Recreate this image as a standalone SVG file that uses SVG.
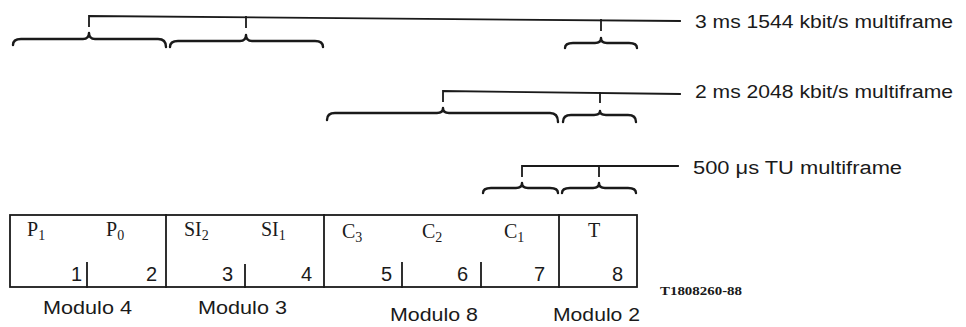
<svg xmlns="http://www.w3.org/2000/svg" width="966" height="327" viewBox="0 0 966 327">
  <style>
    .ln { stroke: #1a1a1a; stroke-width: 1.8; fill: none; stroke-linecap: square; }
    .br { stroke: #1a1a1a; stroke-width: 2.4; fill: none; stroke-linejoin: round; stroke-linecap: round; }
    .box { stroke: #1a1a1a; stroke-width: 1.8; fill: #fff; }
    .cap { font-family: "Liberation Sans", Arial, sans-serif; font-size: 18px; fill: #1a1a1a; }
    .ser { font-family: "Liberation Serif", "Times New Roman", serif; font-size: 20px; fill: #1a1a1a; }
    .sub { font-size: 14px; }
    .num { font-family: "Liberation Sans", Arial, sans-serif; font-size: 20px; fill: #1a1a1a; }
    .ref { font-family: "Liberation Serif", "Times New Roman", serif; font-size: 12px; font-weight: bold; fill: #1a1a1a; }
  </style>
  <rect width="966" height="327" fill="#fff"/>

  <!-- multiframe brackets -->
  <g id="connectors">
    <!-- 3 ms 1544 kbit/s -->
    <path class="ln" d="M89,26 L89,16 L680,21"/>
    <path class="ln" d="M246,17 L246,27"/>
    <path class="ln" d="M601,20 L601,30"/>
    <path class="br" d="M13,45 Q13,39 21,39 L83,39 Q89,39 89,33 Q89,39 95,39 L158,39 Q166,39 166,47"/>
    <path class="br" d="M170,47 Q170,41 178,41 L240,41 Q246,41 246,35 Q246,41 252,41 L315,41 Q323,41 323,47"/>
    <path class="br" d="M565,48 Q565,43 573,43 L595,43 Q601,43 601,38 Q601,43 607,43 L629,43 Q637,43 637,48"/>

    <!-- 2 ms 2048 kbit/s -->
    <path class="ln" d="M443,101 L443,91 L680,94"/>
    <path class="ln" d="M600,93 L600,102"/>
    <path class="br" d="M327,120 Q327,113 335,113 L437,113 Q443,113 443,108 Q443,113 449,113 L550,113 Q558,113 558,122"/>
    <path class="br" d="M563,122 Q563,115 571,115 L594,115 Q600,115 600,111 Q600,115 606,115 L628,115 Q636,115 636,122"/>

    <!-- 500 us TU -->
    <path class="ln" d="M522,176 L522,166 L678,166"/>
    <path class="ln" d="M599,166 L599,176"/>
    <path class="br" d="M483,193 Q483,188 491,188 L516,188 Q522,188 522,183 Q522,188 528,188 L550,188 Q558,188 558,193"/>
    <path class="br" d="M562,193 Q562,188 570,188 L593,188 Q599,188 599,183 Q599,188 605,188 L628,188 Q636,188 636,193"/>
  </g>

  <g id="labels">
    <text class="cap" x="695" y="28" textLength="258" lengthAdjust="spacingAndGlyphs">3 ms 1544 kbit/s multiframe</text>
    <text class="cap" x="695" y="98" textLength="258" lengthAdjust="spacingAndGlyphs">2 ms 2048 kbit/s multiframe</text>
    <text class="cap" x="693" y="174" textLength="209" lengthAdjust="spacingAndGlyphs">500 μs TU multiframe</text>
  </g>

  <!-- frame row -->
  <g id="frame">
    <rect class="box" x="10" y="215" width="627" height="72"/>
    <path class="ln" d="M166,215 V287 M324,215 V287 M559,215 V287"/>
    <path class="ln" d="M87,263 V287 M245,265 V287 M402,263 V287 M481,263 V287"/>
  </g>

  <g id="mod4">
    <text class="ser" x="27" y="236">P<tspan class="sub" dy="4">1</tspan></text>
    <text class="ser" x="106" y="236">P<tspan class="sub" dy="4">0</tspan></text>
    <text class="num" x="71" y="281">1</text>
    <text class="num" x="146" y="281">2</text>
  </g>
  <g id="mod3">
    <text class="ser" x="184" y="236">SI<tspan class="sub" dy="4">2</tspan></text>
    <text class="ser" x="261" y="236">SI<tspan class="sub" dy="4">1</tspan></text>
    <text class="num" x="222" y="281">3</text>
    <text class="num" x="301" y="281">4</text>
  </g>
  <g id="mod8">
    <text class="ser" x="342" y="238">C<tspan class="sub" dy="4">3</tspan></text>
    <text class="ser" x="422" y="238">C<tspan class="sub" dy="4">2</tspan></text>
    <text class="ser" x="504" y="238">C<tspan class="sub" dy="4">1</tspan></text>
    <text class="num" x="381" y="281">5</text>
    <text class="num" x="457" y="281">6</text>
    <text class="num" x="534" y="281">7</text>
  </g>
  <g id="mod2">
    <text class="ser" x="588" y="237">T</text>
    <text class="num" x="612" y="281">8</text>
  </g>

  <g id="modulo">
    <text class="cap" x="43" y="314" textLength="89" lengthAdjust="spacingAndGlyphs">Modulo 4</text>
    <text class="cap" x="198" y="314" textLength="89" lengthAdjust="spacingAndGlyphs">Modulo 3</text>
    <text class="cap" x="390" y="321" textLength="88" lengthAdjust="spacingAndGlyphs">Modulo 8</text>
    <text class="cap" x="553" y="321" textLength="87" lengthAdjust="spacingAndGlyphs">Modulo 2</text>
    <text class="ref" x="660" y="295" textLength="82" lengthAdjust="spacingAndGlyphs">T1808260-88</text>
  </g>
</svg>
